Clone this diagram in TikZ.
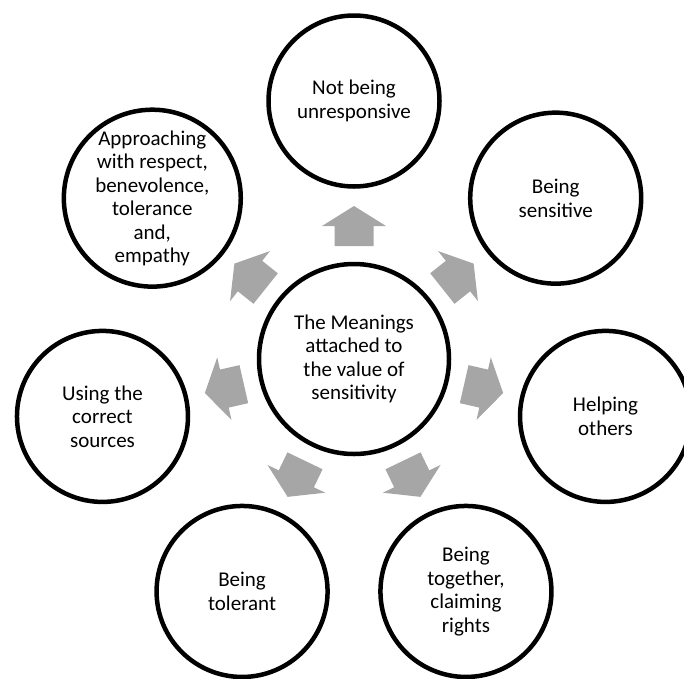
\documentclass[tikz,border=0pt]{standalone}
\usepackage{fontspec}
\setmainfont{Carlito}
\usetikzlibrary{calc}
\definecolor{arrowgray}{RGB}{166,166,166}
\begin{document}
\begin{tikzpicture}[x=1pt,y=1pt,
  outer/.style={circle, draw=black, fill=white, line width=4.5pt, minimum size=171pt, inner sep=0pt, align=center, font=\fontsize{21}{23.5}\selectfont},
  hub/.style={outer, minimum size=190pt},
  blockarrow/.style={fill=arrowgray, draw=none}]
\useasboundingbox (0,-678) rectangle (684,0);
\clip (0,-678) rectangle (684,0);
\node[hub] (c) at (354,-359) {The Meanings\\attached to\\the value of\\sensitivity};
\node[outer] (n1) at ($(c)+(90:258)$) {Not being\\unresponsive};
\node[outer] (n2) at ($(c)+(38.571:258)$) {Being\\sensitive};
\node[outer] (n3) at ($(c)+(-12.857:258)$) {Helping\\others};
\node[outer] (n4) at ($(c)+(-64.286:258)$) {Being\\together,\\claiming\\rights};
\node[outer] (n5) at ($(c)+(-115.714:258)$) {Being\\tolerant};
\node[outer] (n6) at ($(c)+(192.857:258)$) {Using the\\correct\\sources};
\node[outer] (n7) at ($(c)+(141.429:258)$) {Approaching\\with respect,\\benevolence,\\tolerance\\and,\\empathy};
\foreach \a in {90,38.571,-12.857,-64.286,-115.714,192.857,141.429}{
  \fill[blockarrow, shift={(c)}, rotate=\a]
    (113,-19.5) -- (133,-19.5) -- (133,-32) -- (153,0) -- (133,32) -- (133,19.5) -- (113,19.5) -- cycle;
}
\end{tikzpicture}
\end{document}
